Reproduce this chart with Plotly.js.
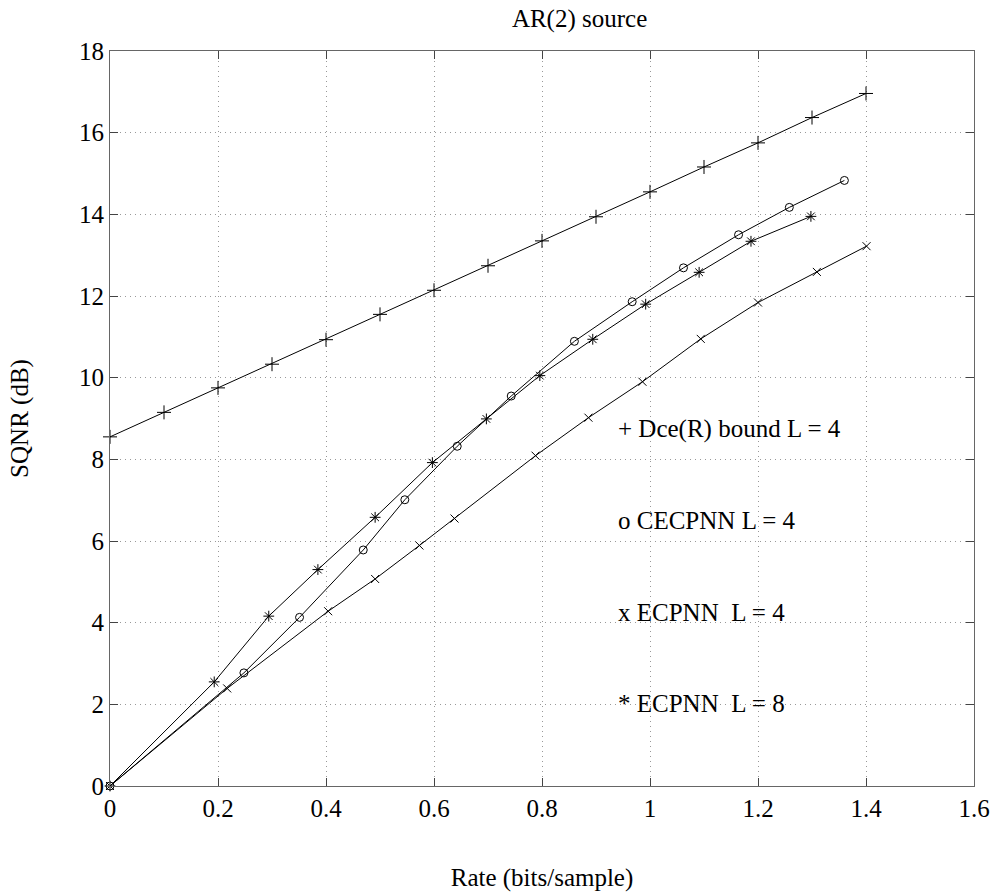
<!DOCTYPE html>
<html>
<head>
<meta charset="utf-8">
<script src="https://cdn.plot.ly/plotly-3.0.1.min.js"></script>
<style>html,body{margin:0;padding:0;background:#fff;}#chart{width:997px;height:892px;}</style>
</head>
<body>
<div id="chart"></div>
<script>
// Dce(R) bound, L = 4
const boundX = [0, 0.1, 0.2, 0.3, 0.4, 0.5, 0.6, 0.7, 0.8, 0.9, 1.0, 1.1, 1.2, 1.3, 1.4];
const boundY = [8.55, 9.15, 9.75, 10.33, 10.93, 11.55, 12.14, 12.74, 13.35, 13.94, 14.55, 15.16, 15.75, 16.37, 16.96];
// CECPNN, L = 4
const cecpnnX = [0, 0.248, 0.351, 0.469, 0.546, 0.643, 0.743, 0.860, 0.967, 1.062, 1.164, 1.258, 1.360];
const cecpnnY = [0, 2.77, 4.13, 5.78, 7.01, 8.32, 9.55, 10.89, 11.86, 12.69, 13.50, 14.17, 14.83];
// ECPNN, L = 4
const ecpnn4X = [0, 0.217, 0.404, 0.491, 0.573, 0.638, 0.788, 0.886, 0.986, 1.094, 1.200, 1.309, 1.401];
const ecpnn4Y = [0, 2.39, 4.28, 5.07, 5.89, 6.55, 8.09, 9.02, 9.90, 10.95, 11.84, 12.59, 13.22];
// ECPNN, L = 8
const ecpnn8X = [0, 0.193, 0.294, 0.385, 0.491, 0.597, 0.697, 0.796, 0.894, 0.992, 1.091, 1.187, 1.298];
const ecpnn8Y = [0, 2.55, 4.16, 5.30, 6.58, 7.92, 8.99, 10.05, 10.94, 11.80, 12.58, 13.34, 13.95];

const labelTexts = ["+ Dce(R) bound L = 4", "o CECPNN L = 4", "x ECPNN\u00a0\u00a0L = 4", "* ECPNN\u00a0\u00a0L = 8"];
const labelX = 0.937;
const labelY = [8.74, 6.49, 4.26, 2.03];

const FONT = '"Liberation Serif", "Times New Roman", Times, serif';

function series(x, y, sym, size, name) {
  return {
    x: x, y: y, name: name, type: 'scatter', mode: 'lines+markers',
    line: {color: '#000', width: 1},
    marker: {symbol: sym, size: size, color: '#000', line: {color: '#000', width: 1}},
    cliponaxis: false
  };
}

const data = [
  series(boundX, boundY, 'cross-thin-open', 10, 'Dce(R) bound L = 4'),
  series(cecpnnX, cecpnnY, 'circle-open', 8, 'CECPNN L = 4'),
  series(ecpnn4X, ecpnn4Y, 'x-thin-open', 8, 'ECPNN L = 4'),
  series(ecpnn8X, ecpnn8Y, 'asterisk-open', 9, 'ECPNN L = 8')
];

const annotations = labelTexts.map((t, i) => ({
  x: labelX, y: labelY[i], xref: 'x', yref: 'y', text: t, showarrow: false,
  xanchor: 'left', yanchor: 'middle', font: {family: FONT, size: 25, color: '#000'}
}));

const axisCommon = {
  showline: true, mirror: 'ticks', linecolor: '#666', linewidth: 1,
  ticks: 'inside', ticklen: 8, tickcolor: '#444', tickwidth: 1,
  showgrid: true, gridcolor: '#999', griddash: '1px,4px', gridwidth: 1,
  zeroline: false, tickfont: {family: FONT, size: 25, color: '#000'}
};

const layout = {
  width: 997, height: 892,
  margin: {l: 110, r: 23, t: 51, b: 106},
  paper_bgcolor: '#fff', plot_bgcolor: '#fff',
  showlegend: false,
  font: {family: FONT, size: 25, color: '#000'},
  title: {text: 'AR(2) source', font: {family: FONT, size: 25, color: '#000'},
          x: 0.5435, xref: 'paper', y: 0.979, yref: 'container', yanchor: 'middle'},
  xaxis: Object.assign({}, axisCommon, {
    range: [0, 1.6], tick0: 0, dtick: 0.2,
    title: {text: 'Rate (bits/sample)', font: {family: FONT, size: 25, color: '#000'}, standoff: 47}
  }),
  yaxis: Object.assign({}, axisCommon, {
    range: [0, 18], tick0: 0, dtick: 2,
    title: {text: 'SQNR (dB)', font: {family: FONT, size: 25, color: '#000'}, standoff: 43}
  }),
  annotations: annotations
};

Plotly.newPlot('chart', data, layout, {displayModeBar: false, staticPlot: true});
</script>
</body>
</html>
